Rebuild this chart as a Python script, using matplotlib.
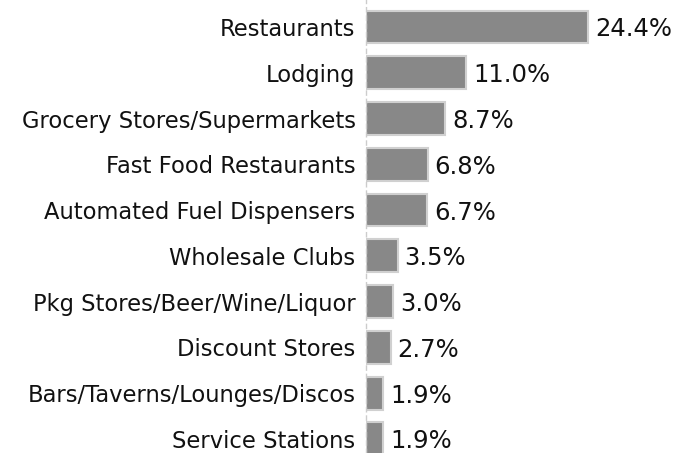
import matplotlib
matplotlib.use("Agg")
from matplotlib import pyplot as plt

categories = [
    "Restaurants",
    "Lodging",
    "Grocery Stores/Supermarkets",
    "Fast Food Restaurants",
    "Automated Fuel Dispensers",
    "Wholesale Clubs",
    "Pkg Stores/Beer/Wine/Liquor",
    "Discount Stores",
    "Bars/Taverns/Lounges/Discos",
    "Service Stations",
]
shares = [24.4, 11.0, 8.7, 6.8, 6.7, 3.5, 3.0, 2.7, 1.9, 1.9]

plt.rcParams["font.family"] = ["DejaVu Sans"]

fig = plt.figure(figsize=(6.8, 4.53), dpi=100)
ax = fig.add_axes([366 / 680, 0, 1 - 366 / 680, 1])

y = list(range(len(categories)))
ax.barh(y, shares, height=0.72, color="#888888", edgecolor="#d0d0d0", linewidth=1.5)

for yi, v in zip(y, shares):
    ax.text(v + 0.75, yi, f"{v:.1f}%", va="center_baseline", ha="left",
            fontsize=17.5, color="#111111")

ax.set_yticks(y)
ax.set_yticklabels(categories, fontsize=16.3, color="#111111", va="center_baseline")
ax.tick_params(axis="y", length=0, pad=7.5)
ax.set_xticks([])
ax.set_xlim(0, 314 / 9.1)
ax.set_ylim(9.31, -0.59)

for side in ["top", "right", "bottom"]:
    ax.spines[side].set_visible(False)
ax.spines["left"].set_color("#cccccc")
ax.spines["left"].set_linestyle((0, (3, 3)))
ax.spines["left"].set_linewidth(1)

fig.savefig("out.png", dpi=100)
